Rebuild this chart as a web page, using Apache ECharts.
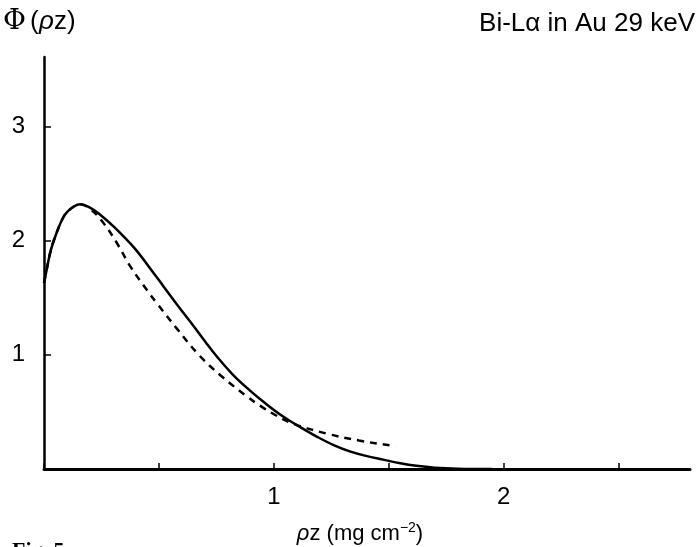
<!DOCTYPE html>
<html>
<head>
<meta charset="utf-8">
<script src="https://cdn.jsdelivr.net/npm/echarts@6/dist/echarts.min.js"></script>
<style>html,body{margin:0;padding:0;background:#fff}#c{width:698px;height:547px}</style>
</head>
<body>
<div id="c"></div>
<script>
// rho z (mg cm^-2) and Phi(rho z) values
const solidX = [0, 0.012, 0.03, 0.055, 0.08, 0.1, 0.13, 0.157, 0.2, 0.243, 0.3, 0.345, 0.4, 0.461, 0.52, 0.59, 0.648, 0.7, 0.75, 0.82, 0.9, 0.96, 1.04, 1.12, 1.19, 1.26, 1.33, 1.4, 1.48, 1.55, 1.62, 1.7, 1.8, 1.95];
const solidY = [1.63, 1.75, 1.92, 2.07, 2.19, 2.25, 2.30, 2.32, 2.29, 2.23, 2.13, 2.04, 1.92, 1.76, 1.60, 1.41, 1.26, 1.12, 0.99, 0.83, 0.68, 0.58, 0.46, 0.36, 0.28, 0.21, 0.155, 0.115, 0.08, 0.05, 0.028, 0.012, 0.003, 0.0];
const dashX = [0, 0.012, 0.03, 0.055, 0.08, 0.1, 0.13, 0.157, 0.2, 0.257, 0.317, 0.374, 0.447, 0.496, 0.578, 0.678, 0.78, 0.88, 0.94, 1.0, 1.08, 1.23, 1.37, 1.51, 1.53];
const dashY = [1.63, 1.75, 1.92, 2.07, 2.19, 2.25, 2.30, 2.32, 2.28, 2.16, 1.98, 1.78, 1.57, 1.44, 1.23, 0.99, 0.80, 0.64, 0.555, 0.48, 0.40, 0.31, 0.25, 0.205, 0.20];
const xTickLabels = {1: '1', 2: '2'};
const yTickLabels = {1: '1', 2: '2', 3: '3'};

const solid = solidX.map((x, i) => [x, solidY[i]]);
const dashed = dashX.map((x, i) => [x, dashY[i]]);
const font = 'Liberation Sans, Arial, sans-serif';

const chart = echarts.init(document.getElementById('c'), null, {renderer: 'canvas'});
chart.setOption({
  backgroundColor: '#fff',
  animation: false,
  grid: {left: 44, right: 8, top: 57, bottom: 78, containLabel: false, outerBoundsMode: 'none'},
  xAxis: {
    type: 'value', min: 0, max: 2.81, interval: 0.5,
    axisLine: {show: true, lineStyle: {color: '#000', width: 3}},
    axisTick: {show: true, inside: true, length: 6, lineStyle: {color: '#000', width: 1.5}},
    axisLabel: {
      margin: 16, color: '#000', fontSize: 24, fontFamily: font,
      formatter: v => xTickLabels[Math.round(v * 10) / 10] || '',
      showMaxLabel: false
    },
    splitLine: {show: false},
    name: '{i|ρ}{a|z (mg cm}{s|−2}{a|)}',
    nameLocation: 'middle', nameGap: 52,
    nameTextStyle: {
      padding: [0, 14, 0, 0],
      rich: {
        i: {fontSize: 22, fontFamily: font, fontStyle: 'italic', color: '#000'},
        a: {fontSize: 22, fontFamily: font, color: '#000'},
        s: {fontSize: 14, fontFamily: font, color: '#000', verticalAlign: 'top', padding: [0, 0, 12, 0]}
      }
    }
  },
  yAxis: {
    type: 'value', min: 0, max: 3.61, interval: 1,
    axisLine: {show: true, lineStyle: {color: '#000', width: 2.5}},
    axisTick: {show: true, inside: true, length: 7, lineStyle: {color: '#000', width: 1.5}},
    axisLabel: {
      margin: 19, color: '#000', fontSize: 24, fontFamily: font,
      formatter: v => yTickLabels[Math.round(v)] || '',
      showMaxLabel: false
    },
    splitLine: {show: false}
  },
  graphic: [
    {type: 'text', left: 3, top: 8, style: {text: 'Φ', font: '28px DejaVu Serif, serif', fill: '#000'}},
    {type: 'text', left: 30, top: 9, style: {text: '(', font: '26px Liberation Sans, Arial, sans-serif', fill: '#000'}},
    {type: 'text', left: 39, top: 9, style: {text: 'ρ', font: 'italic 26px Liberation Sans, Arial, sans-serif', fill: '#000'}},
    {type: 'text', left: 54, top: 9, style: {text: 'z)', font: '26px Liberation Sans, Arial, sans-serif', fill: '#000'}},
    {type: 'text', right: 3, top: 11, style: {text: 'Bi-Lα in Au 29 keV', font: '26px Liberation Sans, Arial, sans-serif', fill: '#000'}},
    {type: 'text', left: 12, top: 540, style: {text: 'Fig. 5', font: 'bold 22px Liberation Serif, serif', fill: '#000'}}
  ],
  series: [
    {type: 'line', data: solid, smooth: 0.4, showSymbol: false, lineStyle: {color: '#000', width: 2.5}},
    {type: 'line', data: dashed, smooth: 0.4, showSymbol: false, lineStyle: {color: '#000', width: 2.5, type: [7, 6]}}
  ]
});
</script>
</body>
</html>
